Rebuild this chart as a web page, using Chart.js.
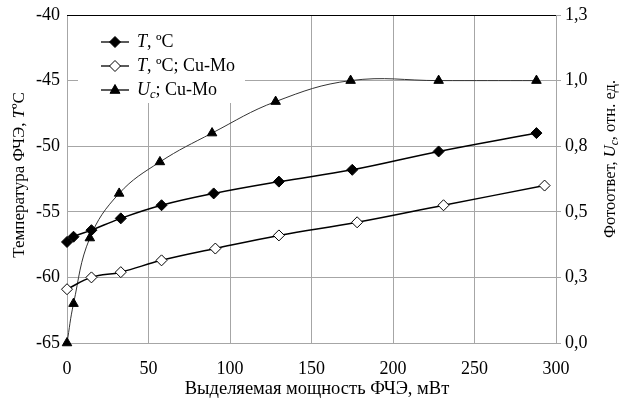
<!DOCTYPE html>
<html>
<head>
<meta charset="utf-8">
<script src="https://cdn.jsdelivr.net/npm/chart.js@4/dist/chart.umd.min.js"></script>
<style>
  html, body { margin: 0; padding: 0; background: #fff; }
  canvas { display: block; }
</style>
</head>
<body>
<canvas id="c" width="628" height="398"></canvas>
<script>
// data
const xPowerT = [0, 4, 15, 33, 58, 90, 130, 175, 228, 288];
const tempT = [-57.3, -56.9, -56.4, -55.5, -54.5, -53.6, -52.7, -51.8, -50.4, -49.0];
const xPowerCuMo = [0, 15, 33, 58, 91, 130, 178, 231, 293];
const tempCuMo = [-60.9, -60.0, -59.6, -58.7, -57.8, -56.8, -55.8, -54.5, -53.0];
const xPowerUc = [0, 4, 14, 32, 57, 89, 128, 174, 228, 288];
const ucCuMo = [0, 0.15, 0.40, 0.57, 0.69, 0.80, 0.92, 1.0, 1.0, 1.0];

const xTicks = [0, 50, 100, 150, 200, 250, 300];
const leftTicks = [-65, -60, -55, -50, -45, -40];
const rightTickValues = [0, 0.25, 0.5, 0.75, 1.0, 1.25];
const rightTickLabels = ['0,0', '0,3', '0,5', '0,8', '1,0', '1,3'];

const FONT = '"Liberation Serif", "Times New Roman", serif';
const GRID = '#a6a6a6';

function pts(xs, ys) {
  return xs.map((x, i) => ({ x: x, y: ys[i] }));
}

// text made of several runs (italic, subscript)
function richWidth(ctx, parts, size) {
  let w = 0;
  parts.forEach(p => {
    ctx.font = (p.i ? 'italic ' : '') + (p.sub ? size * 0.7 : size) + 'px ' + FONT;
    w += ctx.measureText(p.t).width;
  });
  return w;
}
function paintRich(ctx, parts, x, y, size, align) {
  const total = richWidth(ctx, parts, size);
  let cx = align === 'center' ? x - total / 2 : x;
  ctx.textAlign = 'left';
  ctx.textBaseline = 'middle';
  parts.forEach(p => {
    const s = p.sub ? size * 0.7 : size;
    ctx.font = (p.i ? 'italic ' : '') + s + 'px ' + FONT;
    ctx.fillText(p.t, cx, p.sub ? y + size * 0.25 : y);
    cx += ctx.measureText(p.t).width;
  });
}

function marker(ctx, style, x, y, r, fill) {
  ctx.beginPath();
  if (style === 'rectRot') {
    ctx.moveTo(x, y - r); ctx.lineTo(x + r, y); ctx.lineTo(x, y + r); ctx.lineTo(x - r, y);
  } else {
    ctx.moveTo(x, y - r); ctx.lineTo(x + r * 0.9, y + r * 0.6); ctx.lineTo(x - r * 0.9, y + r * 0.6);
  }
  ctx.closePath();
  ctx.fillStyle = fill;
  ctx.fill();
  ctx.strokeStyle = '#000';
  ctx.lineWidth = 1;
  ctx.stroke();
}

const legendItems = [
  { parts: [{ t: 'T', i: true }, { t: ', ºC' }], style: 'rectRot', fill: '#000' },
  { parts: [{ t: 'T', i: true }, { t: ', ºC; Cu-Mo' }], style: 'rectRot', fill: '#fff' },
  { parts: [{ t: 'U', i: true }, { t: 'c', i: true, sub: true }, { t: '; Cu-Mo' }], style: 'triangle', fill: '#000' }
];

const decor = {
  id: 'decor',
  afterDraw(chart) {
    const ctx = chart.ctx;
    const a = chart.chartArea;
    ctx.save();
    // top border
    ctx.strokeStyle = '#000';
    ctx.lineWidth = 1;
    ctx.beginPath();
    ctx.moveTo(a.left, a.top + 0.5);
    ctx.lineTo(a.right, a.top + 0.5);
    ctx.stroke();

    // legend
    ctx.fillStyle = '#fff';
    ctx.fillRect(a.left + 11, a.top + 1, 167, 87);
    legendItems.forEach((it, k) => {
      const y = a.top + 27 + k * 24;
      ctx.strokeStyle = '#000';
      ctx.lineWidth = 1.3;
      ctx.beginPath();
      ctx.moveTo(a.left + 34, y);
      ctx.lineTo(a.left + 62, y);
      ctx.stroke();
      marker(ctx, it.style, a.left + 48, y, 5.5, it.fill);
      ctx.fillStyle = '#000';
      paintRich(ctx, it.parts, a.left + 70, y, 18, 'left');
    });

    // axis titles
    ctx.fillStyle = '#000';
    paintRich(ctx, [{ t: 'Выделяемая мощность ФЧЭ, мВт' }], 317, 389, 18.5, 'center');

    ctx.save();
    ctx.translate(20, 175);
    ctx.rotate(-Math.PI / 2);
    paintRich(ctx, [{ t: 'Температура ФЧЭ, ' }, { t: 'T', i: true }, { t: 'ºC' }], 0, 0, 17, 'center');
    ctx.restore();

    ctx.save();
    ctx.translate(611, 159);
    ctx.rotate(-Math.PI / 2);
    paintRich(ctx, [{ t: 'Фотоответ, ' }, { t: 'U', i: true }, { t: 'c', i: true, sub: true }, { t: ', отн. ед.' }], 0, 0, 16.5, 'center');
    ctx.restore();
    ctx.restore();
  }
};

function fixY(width) {
  return s => { s.width = width; s.paddingTop = 0; s.paddingBottom = 0; };
}

new Chart(document.getElementById('c'), {
  type: 'line',
  data: {
    datasets: [
      {
        label: 'T, ºC',
        data: pts(xPowerT, tempT),
        yAxisID: 'y',
        borderColor: '#000',
        borderWidth: 1.5,
        pointStyle: 'rectRot',
        pointRadius: 5.5,
        pointBackgroundColor: '#000',
        pointBorderColor: '#000',
        pointBorderWidth: 1,
        tension: 0.4
      },
      {
        label: 'T, ºC; Cu-Mo',
        data: pts(xPowerCuMo, tempCuMo),
        yAxisID: 'y',
        borderColor: '#000',
        borderWidth: 1.5,
        pointStyle: 'rectRot',
        pointRadius: 5.5,
        pointBackgroundColor: '#fff',
        pointBorderColor: '#000',
        pointBorderWidth: 1,
        tension: 0.4
      },
      {
        label: 'Uc; Cu-Mo',
        data: pts(xPowerUc, ucCuMo),
        yAxisID: 'y2',
        borderColor: '#333',
        borderWidth: 1,
        pointStyle: 'triangle',
        pointRadius: 5.5,
        pointBackgroundColor: '#000',
        pointBorderColor: '#000',
        pointBorderWidth: 1,
        tension: 0.4
      }
    ]
  },
  options: {
    responsive: false,
    animation: false,
    clip: false,
    layout: { padding: { top: 15, left: 0, right: 0, bottom: 0 } },
    plugins: { legend: { display: false }, tooltip: { enabled: false } },
    scales: {
      x: {
        type: 'linear',
        min: 0, max: 300,
        afterBuildTicks: s => { s.ticks = xTicks.map(v => ({ value: v })); },
        afterFit: s => { s.height = 55; s.paddingLeft = 0; s.paddingRight = 0; },
        grid: { color: GRID, drawTicks: false },
        border: { color: GRID, width: 1 },
        ticks: { color: '#000', padding: 15, font: { family: FONT, size: 18 } }
      },
      y: {
        position: 'left',
        min: -65, max: -40,
        afterBuildTicks: s => { s.ticks = leftTicks.map(v => ({ value: v })); },
        afterFit: fixY(67),
        grid: { color: GRID, drawTicks: false },
        border: { color: GRID, width: 1 },
        ticks: { color: '#000', padding: 7, font: { family: FONT, size: 18 } }
      },
      y2: {
        position: 'right',
        min: 0, max: 1.25,
        afterBuildTicks: s => { s.ticks = rightTickValues.map(v => ({ value: v })); },
        afterFit: fixY(72),
        grid: { drawOnChartArea: false, color: GRID, tickLength: 5 },
        border: { color: GRID, width: 1 },
        ticks: {
          color: '#000', padding: 4, font: { family: FONT, size: 18 },
          callback: (v) => rightTickLabels[rightTickValues.indexOf(v)]
        }
      }
    }
  },
  plugins: [decor]
});
</script>
</body>
</html>
